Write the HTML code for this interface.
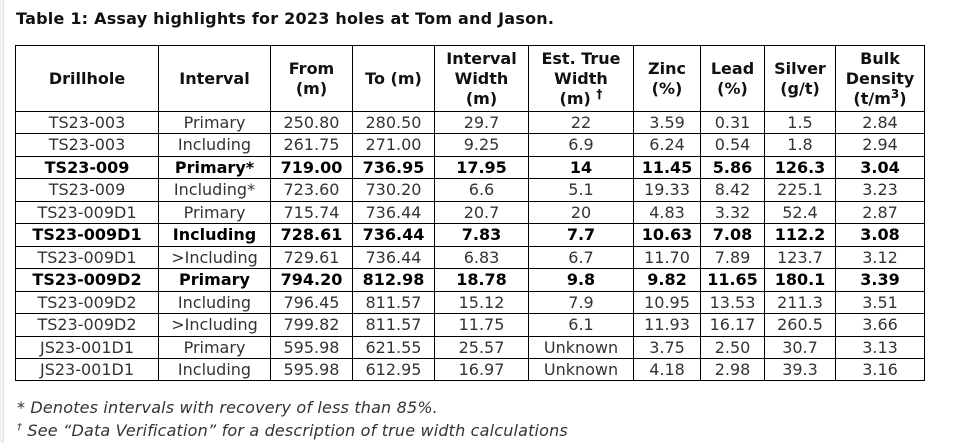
<!DOCTYPE html>
<html><head><meta charset="utf-8"><style>
html,body{margin:0;padding:0;background:#fff;}
body{width:965px;height:443px;position:relative;overflow:hidden;font-family:"DejaVu Sans","Liberation Sans",sans-serif;}
.strip{position:absolute;left:0;top:0;width:3px;height:443px;background:#f2f2f2;border-right:1px solid #e4e4e4;}
.title{position:absolute;left:16px;top:9px;font-size:16px;font-weight:bold;line-height:20px;color:#111;white-space:nowrap;letter-spacing:0.22px;}
.v{position:absolute;top:45px;width:1px;height:336px;background:#000;}
.h{position:absolute;left:15px;width:910px;height:1px;background:#000;}
.c{position:absolute;display:flex;align-items:center;justify-content:center;text-align:center;font-size:16px;color:#333;white-space:nowrap;line-height:20px;}
.b{font-weight:bold;color:#000;}
.hd{font-weight:bold;color:#111;line-height:20px;}
sup{font-size:12px;line-height:0;vertical-align:6px;}
.fn sup{font-size:10px;}
.fn{position:absolute;left:17px;font-size:16px;font-style:italic;color:#333;line-height:22px;white-space:nowrap;letter-spacing:0.17px;}
</style></head><body>
<div class="strip"></div>
<div class="title">Table 1: Assay highlights for 2023 holes at Tom and Jason.</div>
<div id="g"></div>
<div class="fn" style="top:397px">* Denotes intervals with recovery of less than 85%.</div>
<div class="fn" style="top:420px"><sup>†</sup> See “Data Verification” for a description of true width calculations</div>
<script>
var X=[15,158,270,352,434,528,633,700,764,835,924];
var Y=[45,111,133,156,178,201,223,246,268,291,313,336,358,380];
var H=["Drillhole","Interval","From<br>(m)","To (m)","Interval<br>Width<br>(m)","Est. True<br>Width<br>(m) <sup>†</sup>","Zinc<br>(%)","Lead<br>(%)","Silver<br>(g/t)","Bulk<br>Density<br>(t/m<sup>3</sup>)"];
var D=[
[0,"TS23-003","Primary","250.80","280.50","29.7","22","3.59","0.31","1.5","2.84"],
[0,"TS23-003","Including","261.75","271.00","9.25","6.9","6.24","0.54","1.8","2.94"],
[1,"TS23-009","Primary*","719.00","736.95","17.95","14","11.45","5.86","126.3","3.04"],
[0,"TS23-009","Including*","723.60","730.20","6.6","5.1","19.33","8.42","225.1","3.23"],
[0,"TS23-009D1","Primary","715.74","736.44","20.7","20","4.83","3.32","52.4","2.87"],
[1,"TS23-009D1","Including","728.61","736.44","7.83","7.7","10.63","7.08","112.2","3.08"],
[0,"TS23-009D1","&gt;Including","729.61","736.44","6.83","6.7","11.70","7.89","123.7","3.12"],
[1,"TS23-009D2","Primary","794.20","812.98","18.78","9.8","9.82","11.65","180.1","3.39"],
[0,"TS23-009D2","Including","796.45","811.57","15.12","7.9","10.95","13.53","211.3","3.51"],
[0,"TS23-009D2","&gt;Including","799.82","811.57","11.75","6.1","11.93","16.17","260.5","3.66"],
[0,"JS23-001D1","Primary","595.98","621.55","25.57","Unknown","3.75","2.50","30.7","3.13"],
[0,"JS23-001D1","Including","595.98","612.95","16.97","Unknown","4.18","2.98","39.3","3.16"]
];
var s="";
for(var i=0;i<X.length;i++)s+='<div class="v" style="left:'+X[i]+'px"></div>';
for(var j=0;j<Y.length;j++)s+='<div class="h" style="top:'+Y[j]+'px"></div>';
function cell(r,c,txt,cls){
 s+='<div class="c '+cls+'" style="left:'+(X[c]+1)+'px;top:'+(Y[r]+1)+'px;width:'+(X[c+1]-X[c]-1)+'px;height:'+(Y[r+1]-Y[r]-1)+'px"><div>'+txt+'</div></div>';
}
for(var c=0;c<10;c++)cell(0,c,H[c],"hd");
for(var r=0;r<D.length;r++)for(var c=0;c<10;c++)cell(r+1,c,D[r][c+1],D[r][0]?"b":"");
document.getElementById("g").innerHTML=s;
</script>
</body></html>
